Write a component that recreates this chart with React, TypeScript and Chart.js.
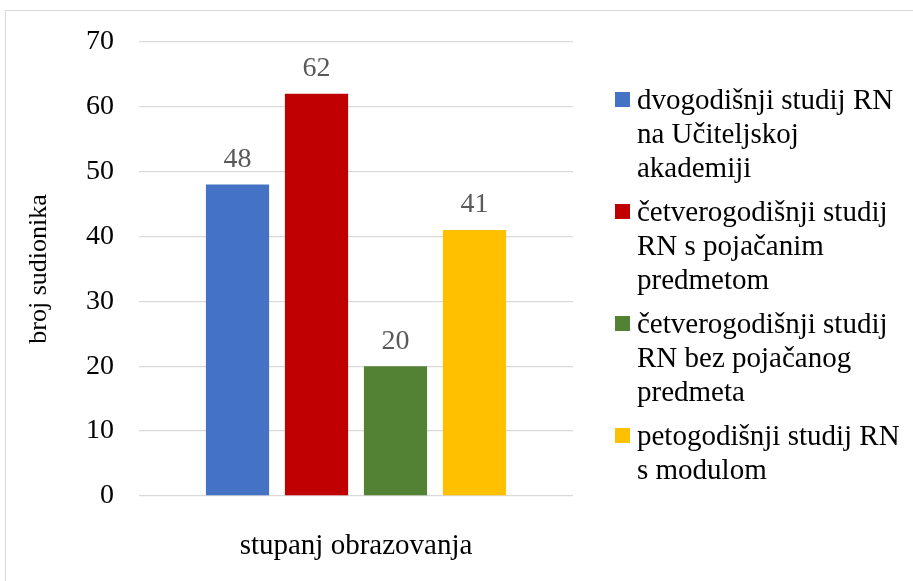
import React, { useEffect, useRef } from "react";
import { Chart, registerables } from "chart.js";

Chart.register(...registerables);

const categories = ["stupanj obrazovanja"];
const seriesNames: string[][] = [
  ["dvogodišnji studij RN", "na Učiteljskoj", "akademiji"],
  ["četverogodišnji studij", "RN s pojačanim", "predmetom"],
  ["četverogodišnji studij", "RN bez pojačanog", "predmeta"],
  ["petogodišnji studij RN", "s modulom"],
];
const seriesValues = [48, 62, 20, 41];
const seriesColors = ["#4472C4", "#C00000", "#548235", "#FFC000"];
const yTicks = [0, 10, 20, 30, 40, 50, 60, 70];
const yTitle = "broj sudionika";

const FONT = "'Liberation Serif', 'Times New Roman', serif";

const dataLabelPlugin = {
  id: "dataLabels",
  afterDatasetsDraw(chart: any) {
    const ctx = chart.ctx;
    ctx.save();
    ctx.font = `28px ${FONT}`;
    ctx.fillStyle = "#595959";
    ctx.textAlign = "center";
    ctx.textBaseline = "middle";
    chart.data.datasets.forEach((ds: any, i: number) => {
      const meta = chart.getDatasetMeta(i);
      meta.data.forEach((bar: any, j: number) => {
        ctx.fillText(String(ds.data[j]), bar.x, bar.y - 25);
      });
    });
    ctx.restore();
  },
};

export default function App() {
  const ref = useRef<HTMLCanvasElement | null>(null);

  useEffect(() => {
    if (!ref.current) return;
    const chart = new Chart(ref.current, {
      type: "bar",
      data: {
        labels: categories,
        datasets: seriesValues.map((v, i) => ({
          label: seriesNames[i].join(" "),
          data: [v],
          backgroundColor: seriesColors[i],
          borderWidth: 0,
          categoryPercentage: 0.728,
          barPercentage: 0.8,
        })),
      },
      options: {
        animation: false,
        responsive: false,
        maintainAspectRatio: false,
        layout: { padding: { left: 10, right: 340, top: 40, bottom: 0 } },
        plugins: {
          legend: { display: false },
          tooltip: { enabled: false },
        },
        scales: {
          x: {
            grid: { display: false, drawTicks: false },
            border: { display: false },
            ticks: {
              color: "#000",
              font: { family: FONT, size: 29 },
              padding: 33,
            },
            afterFit: (s: any) => {
              s.height = 85;
            },
          },
          y: {
            min: 0,
            max: 70,
            afterBuildTicks: (s: any) => {
              s.ticks = yTicks.map((v) => ({ value: v }));
            },
            grid: { color: "#d9d9d9", lineWidth: 1.3, drawTicks: false },
            border: { display: false },
            ticks: {
              color: "#000",
              font: { family: FONT, size: 28 },
              padding: 25,
            },
            title: {
              display: true,
              text: yTitle,
              color: "#000",
              font: { family: FONT, size: 26 },
              padding: { top: 14, bottom: 0 },
            },
            afterFit: (s: any) => {
              s.width = 129;
            },
          },
        },
      },
      plugins: [dataLabelPlugin],
    });
    return () => chart.destroy();
  }, []);

  return (
    <div style={{ position: "absolute", left: 0, top: 0, width: 913, height: 581, overflow: "hidden", background: "#fff" }}>
      <div
        style={{
          position: "absolute",
          left: 5,
          top: 10,
          width: 920,
          height: 600,
          borderLeft: "1.5px solid #d9d9d9",
          borderTop: "1.5px solid #d9d9d9",
        }}
      />
      <canvas ref={ref} width={913} height={581} style={{ position: "absolute", left: 0, top: 0 }} />
      <div style={{ position: "absolute", left: 615, top: 82, fontFamily: FONT, fontSize: 29, lineHeight: "34px", color: "#000" }}>
        {seriesNames.map((lines, i) => (
          <div key={i} style={{ position: "relative", paddingLeft: 22, marginBottom: 10, whiteSpace: "nowrap" }}>
            <span
              style={{
                position: "absolute",
                left: 0,
                top: 10,
                width: 15,
                height: 15,
                background: seriesColors[i],
              }}
            />
            {lines.map((l, k) => (
              <div key={k}>{l}</div>
            ))}
          </div>
        ))}
      </div>
    </div>
  );
}
